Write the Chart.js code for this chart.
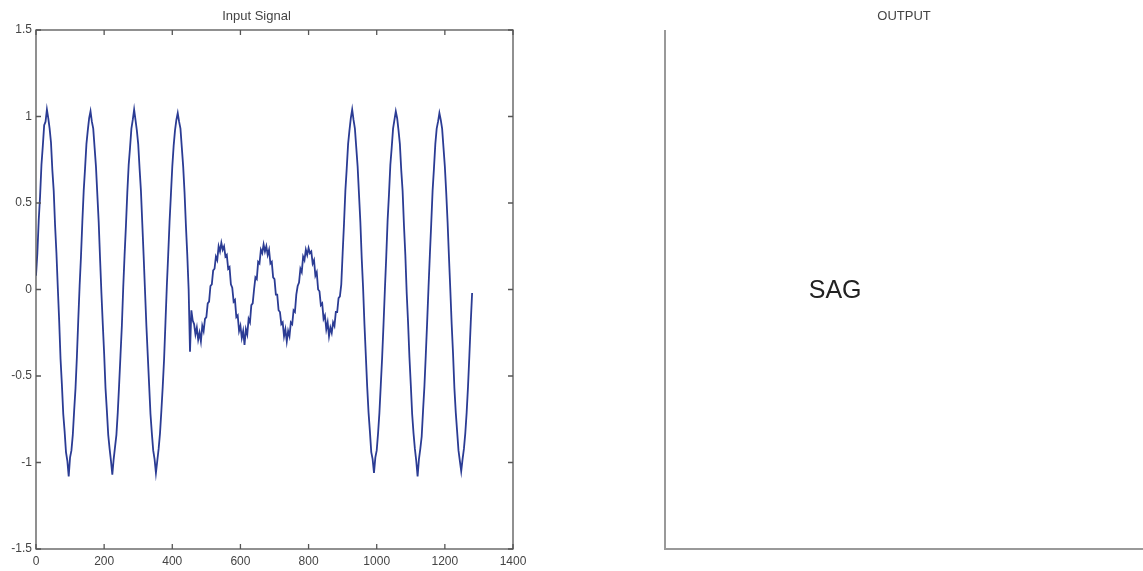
<!DOCTYPE html>
<html>
<head>
<meta charset="utf-8">
<title>Input Signal / OUTPUT</title>
<script src="https://cdn.jsdelivr.net/npm/chart.js@4"></script>
<style>
  body { margin: 0; background: #fff; width: 1143px; height: 571px; overflow: hidden; position: relative; }
  #inputChart { position: absolute; left: 0; top: 0; }
  #outputChart { position: absolute; left: 560px; top: 0; }
</style>
</head>
<body>
<canvas id="inputChart" width="560" height="571"></canvas>
<canvas id="outputChart" width="583" height="571"></canvas>
<script>
// samples between two read points
const STEP = 4;

// full amplitude part, samples 0..444
const signalBefore = [
  0.08, 0.21, 0.40, 0.54, 0.72, 0.83, 0.95, 0.97, 1.04, 0.99, 0.93, 0.85, 0.69, 0.57, 0.37, 0.21,
  0.01, -0.18, -0.40, -0.55, -0.72, -0.82, -0.94, -0.99, -1.08, -0.97, -0.93, -0.84, -0.70, -0.57, -0.39, -0.18,
  0.02, 0.19, 0.39, 0.57, 0.70, 0.84, 0.92, 0.99, 1.03, 0.97, 0.93, 0.82, 0.71, 0.55, 0.39, 0.18,
  -0.02, -0.20, -0.37, -0.57, -0.70, -0.84, -0.92, -0.99, -1.07, -0.98, -0.91, -0.84, -0.71, -0.55, -0.38, -0.21,
  0.01, 0.20, 0.37, 0.56, 0.72, 0.82, 0.93, 0.98, 1.04, 0.98, 0.92, 0.84, 0.70, 0.57, 0.38, 0.19,
  -0.01, -0.21, -0.38, -0.55, -0.72, -0.83, -0.93, -0.98, -1.06, -0.99, -0.92, -0.83, -0.70, -0.56, -0.40, -0.19,
  0.02, 0.20, 0.39, 0.55, 0.71, 0.83, 0.92, 0.98, 1.02, 0.97, 0.93, 0.82, 0.71, 0.56, 0.37, 0.20
];

// the sag, samples 448..892
const signalSag = [
  0.00, -0.36, -0.12, -0.18, -0.20, -0.26, -0.22, -0.29, -0.25, -0.30, -0.21, -0.24, -0.17, -0.16, -0.08, -0.07,
  0.02, 0.03, 0.11, 0.12, 0.19, 0.17, 0.25, 0.22, 0.27, 0.23, 0.25, 0.19, 0.20, 0.12, 0.13, 0.03,
  0.01, -0.07, -0.06, -0.16, -0.15, -0.24, -0.21, -0.28, -0.24, -0.32, -0.23, -0.26, -0.17, -0.19, -0.09, -0.08,
  0.00, 0.07, 0.06, 0.16, 0.15, 0.23, 0.21, 0.26, 0.22, 0.25, 0.20, 0.23, 0.15, 0.16, 0.07, 0.06,
  -0.03, -0.03, -0.12, -0.13, -0.20, -0.19, -0.27, -0.23, -0.30, -0.24, -0.27, -0.19, -0.20, -0.12, -0.13, -0.03,
  0.02, 0.04, 0.12, 0.10, 0.19, 0.17, 0.23, 0.20, 0.24, 0.21, 0.22, 0.15, 0.17, 0.08, 0.10, 0.00,
  -0.01, -0.09, -0.08, -0.17, -0.15, -0.23, -0.19, -0.27, -0.22, -0.25, -0.19, -0.21, -0.13, -0.13, -0.05, -0.04
];

// back to full amplitude, samples 896..1280
const signalAfter = [
  0.03, 0.21, 0.38, 0.57, 0.70, 0.84, 0.92, 0.99, 1.04, 0.98, 0.93, 0.82, 0.71, 0.55, 0.39, 0.18,
  0.01, -0.20, -0.38, -0.56, -0.71, -0.82, -0.94, -0.98, -1.06, -0.97, -0.93, -0.83, -0.71, -0.55, -0.39, -0.20,
  0.00, 0.19, 0.40, 0.55, 0.72, 0.82, 0.93, 0.98, 1.03, 0.99, 0.92, 0.84, 0.69, 0.57, 0.37, 0.20,
  -0.02, -0.19, -0.39, -0.55, -0.72, -0.83, -0.92, -0.99, -1.08, -0.98, -0.92, -0.85, -0.70, -0.56, -0.38, -0.19,
  0.01, 0.20, 0.38, 0.57, 0.70, 0.84, 0.93, 0.97, 1.02, 0.98, 0.93, 0.82, 0.71, 0.56, 0.39, 0.19,
  0.00, -0.20, -0.37, -0.57, -0.71, -0.82, -0.93, -0.99, -1.05, -0.98, -0.92, -0.83, -0.71, -0.56, -0.38, -0.19,
  -0.02
];

const xTicks = [0, 200, 400, 600, 800, 1000, 1200, 1400];
const yTicks = [-1.5, -1, -0.5, 0, 0.5, 1, 1.5];

const FONT = 'Liberation Sans, Arial, Helvetica, sans-serif';

const signal = signalBefore.concat(signalSag, signalAfter);
const points = signal.map((v, i) => ({ x: i * STEP, y: v }));

// box round the plot with the small inward ticks (matlab look)
const boxPlugin = {
  id: 'boxPlugin',
  afterDraw(chart) {
    const a = chart.chartArea;
    const ctx = chart.ctx;
    const xs = chart.scales.x, ys = chart.scales.y;
    ctx.save();
    ctx.strokeStyle = '#555';
    ctx.lineWidth = 1.3;
    ctx.strokeRect(a.left, a.top, a.right - a.left, a.bottom - a.top);
    ctx.beginPath();
    xTicks.forEach(v => {
      const px = xs.getPixelForValue(v);
      ctx.moveTo(px, a.bottom); ctx.lineTo(px, a.bottom - 5);
      ctx.moveTo(px, a.top); ctx.lineTo(px, a.top + 5);
    });
    yTicks.forEach(v => {
      const py = ys.getPixelForValue(v);
      ctx.moveTo(a.left, py); ctx.lineTo(a.left + 5, py);
      ctx.moveTo(a.right, py); ctx.lineTo(a.right - 5, py);
    });
    ctx.stroke();
    ctx.restore();
  }
};

const inputChart = new Chart(document.getElementById('inputChart'), {
  type: 'line',
  data: {
    datasets: [{
      label: 'Input Signal',
      data: points,
      borderColor: '#2b3c94',
      borderWidth: 1.8,
      pointRadius: 0,
      tension: 0,
      fill: false
    }]
  },
  options: {
    responsive: false,
    animation: false,
    layout: { padding: { left: 0, right: 47, top: 0, bottom: 0 } },
    plugins: {
      legend: { display: false },
      tooltip: { enabled: false },
      title: {
        display: true,
        text: 'Input Signal',
        color: '#444',
        font: { size: 13, family: FONT, weight: 'normal' },
        padding: { top: 9, bottom: 5.4 }
      }
    },
    scales: {
      x: {
        type: 'linear',
        min: 0,
        max: 1400,
        afterBuildTicks: s => { s.ticks = xTicks.map(v => ({ value: v })); },
        afterFit: s => { s.height = 22; },
        grid: { display: false, drawTicks: false },
        border: { display: false },
        ticks: { padding: 5, color: '#444', autoSkip: false, maxRotation: 0, font: { size: 12, family: FONT }, callback: v => String(v) }
      },
      y: {
        type: 'linear',
        min: -1.5,
        max: 1.5,
        afterBuildTicks: s => { s.ticks = yTicks.map(v => ({ value: v })); },
        afterFit: s => { s.width = 36; },
        grid: { display: false, drawTicks: false },
        border: { display: false },
        ticks: { padding: 4, color: '#444', font: { size: 12, family: FONT }, callback: v => String(v) }
      }
    }
  },
  plugins: [boxPlugin]
});

// right panel: only two axis lines and the word SAG
const outputPlugin = {
  id: 'outputPlugin',
  afterDraw(chart) {
    const a = chart.chartArea;
    const ctx = chart.ctx;
    ctx.save();
    ctx.strokeStyle = '#999';
    ctx.lineWidth = 2;
    ctx.beginPath();
    ctx.moveTo(a.left, a.top);
    ctx.lineTo(a.left, a.bottom);
    ctx.lineTo(a.right, a.bottom);
    ctx.stroke();
    ctx.fillStyle = '#222';
    ctx.font = '25px ' + FONT;
    ctx.textAlign = 'center';
    ctx.textBaseline = 'middle';
    ctx.fillText('SAG', chart.scales.x.getPixelForValue(0.356), chart.scales.y.getPixelForValue(0.497));
    ctx.restore();
  }
};

const outputChart = new Chart(document.getElementById('outputChart'), {
  type: 'line',
  data: { datasets: [] },
  options: {
    responsive: false,
    animation: false,
    layout: { padding: { left: 105, right: 0, top: 0, bottom: 22 } },
    plugins: {
      legend: { display: false },
      tooltip: { enabled: false },
      title: {
        display: true,
        text: 'OUTPUT',
        color: '#444',
        font: { size: 13, family: FONT, weight: 'normal' },
        padding: { top: 9, bottom: 5.4 }
      }
    },
    scales: {
      x: { type: 'linear', min: 0, max: 1, display: false },
      y: { type: 'linear', min: 0, max: 1, display: false }
    }
  },
  plugins: [outputPlugin]
});
</script>
</body>
</html>
